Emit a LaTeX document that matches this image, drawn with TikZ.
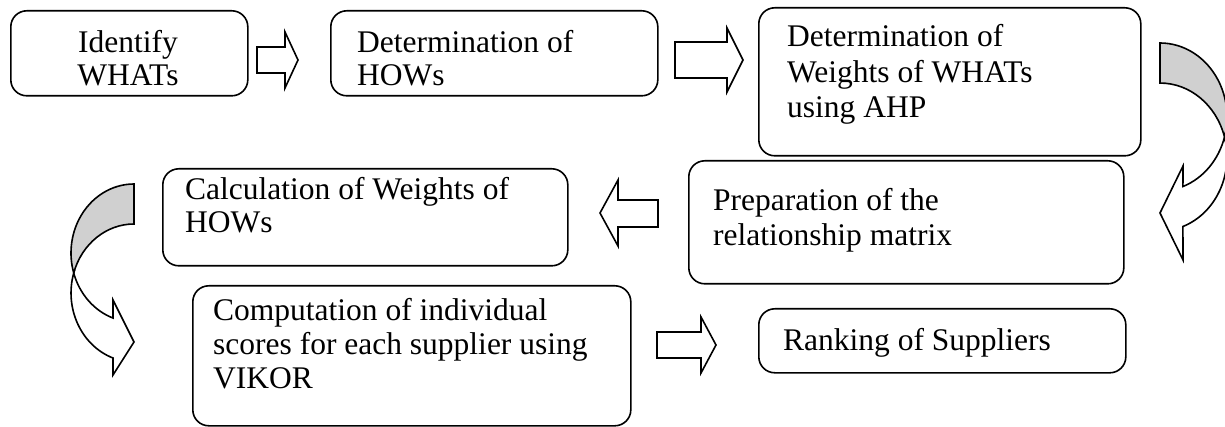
\documentclass[tikz,border=0pt]{standalone}
\usepackage{fontspec}
\setmainfont{Liberation Serif}
\usetikzlibrary{calc}
\definecolor{shade}{RGB}{208,208,208}
\begin{document}
\begin{tikzpicture}[x=1pt,y=-1pt,
  box/.style={draw, line width=1.6pt, rounded corners=16pt, anchor=north west, inner sep=0pt},
  lbl/.style={anchor=base west, font=\fontsize{31.5}{33}\selectfont, inner sep=0pt},
  lblc/.style={anchor=base, font=\fontsize{31.5}{33}\selectfont, inner sep=0pt},
  blk/.style={draw, line width=1.6pt, fill=white, line join=miter},
  back/.style={draw, line width=1.6pt, fill=shade, line join=miter},
]
\useasboundingbox (0,0) rectangle (1225,427);

% boxes
\node[box, minimum width=237pt, minimum height=85pt] (b1) at (10,10) {};
\node[box, minimum width=327pt, minimum height=85pt] (b2) at (330,10) {};
\node[box, minimum width=382pt, minimum height=148pt] (b3) at (758,7) {};
\node[box, minimum width=405pt, minimum height=97pt] (b4) at (162,168) {};
\node[box, minimum width=435pt, minimum height=123pt] (b5) at (688,160) {};
\node[box, minimum width=438pt, minimum height=140pt] (b6) at (192,285) {};
\node[box, minimum width=367pt, minimum height=64pt] (b7) at (758,308) {};

% texts
\node[lblc] (t1a) at (128,53) {Identify};
\node[lblc] (t1b) at (128,86) {WHATs};
\node[lbl] (t2a) at (357,53) {Determination of};
\node[lbl] (t2b) at (357,86) {HOWs};
\node[lbl] (t3a) at (787,47) {Determination of};
\node[lbl] (t3b) at (787,83) {Weights of WHATs};
\node[lbl] (t3c) at (787,118) {using AHP};
\node[lbl] (t4a) at (185,200) {Calculation of Weights of};
\node[lbl] (t4b) at (185,233) {HOWs};
\node[lbl] (t5a) at (713,211) {Preparation of the};
\node[lbl] (t5b) at (713,246) {relationship matrix};
\node[lbl] (t6a) at (213,320) {Computation of individual};
\node[lbl] (t6b) at (213,354) {scores for each supplier using};
\node[lbl] (t6c) at (213,388) {VIKOR};
\node[lbl] (t7a) at (783,350) {Ranking of Suppliers};

% straight block arrows
\draw[blk] (257,47) -- (285,47) -- (285,32) -- (298,60) -- (285,88) -- (285,73) -- (257,73) -- cycle;
\draw[blk] (675,42) -- (727,42) -- (727,28) -- (743,60) -- (727,92) -- (727,78) -- (675,78) -- cycle;
\draw[blk] (658,200) -- (618,200) -- (618,180) -- (600,213) -- (618,246) -- (618,227) -- (658,227) -- cycle;
\draw[blk] (657,332) -- (701,332) -- (701,317) -- (716,345) -- (701,373) -- (701,358) -- (657,358) -- cycle;

% right curved arrow (pointing left)
\draw[back] (1160,43) arc[start angle=-90, end angle=15.7, x radius=67, y radius=74]
  arc[start angle=-15.7, end angle=-90, x radius=67, y radius=74] -- cycle;
\draw[blk] (1224.5,137) arc[start angle=15.7, end angle=70, x radius=67, y radius=74]
  -- (1183,166) -- (1160,213) -- (1183,260) -- (1182.9,226.5)
  arc[start angle=70, end angle=-15.7, x radius=67, y radius=74] -- cycle;

% left curved arrow (pointing right)
\draw[back] (134,184) arc[start angle=-90, end angle=-196.85, x radius=63, y radius=69]
  arc[start angle=196.85, end angle=270, x radius=63, y radius=69] -- cycle;
\draw[blk] (73.7,273) arc[start angle=163.15, end angle=109.5, x radius=63, y radius=69]
  -- (113,300) -- (134,342) -- (113,375) -- (113,358)
  arc[start angle=109.5, end angle=196.85, x radius=63, y radius=69] -- cycle;
\end{tikzpicture}
\end{document}
